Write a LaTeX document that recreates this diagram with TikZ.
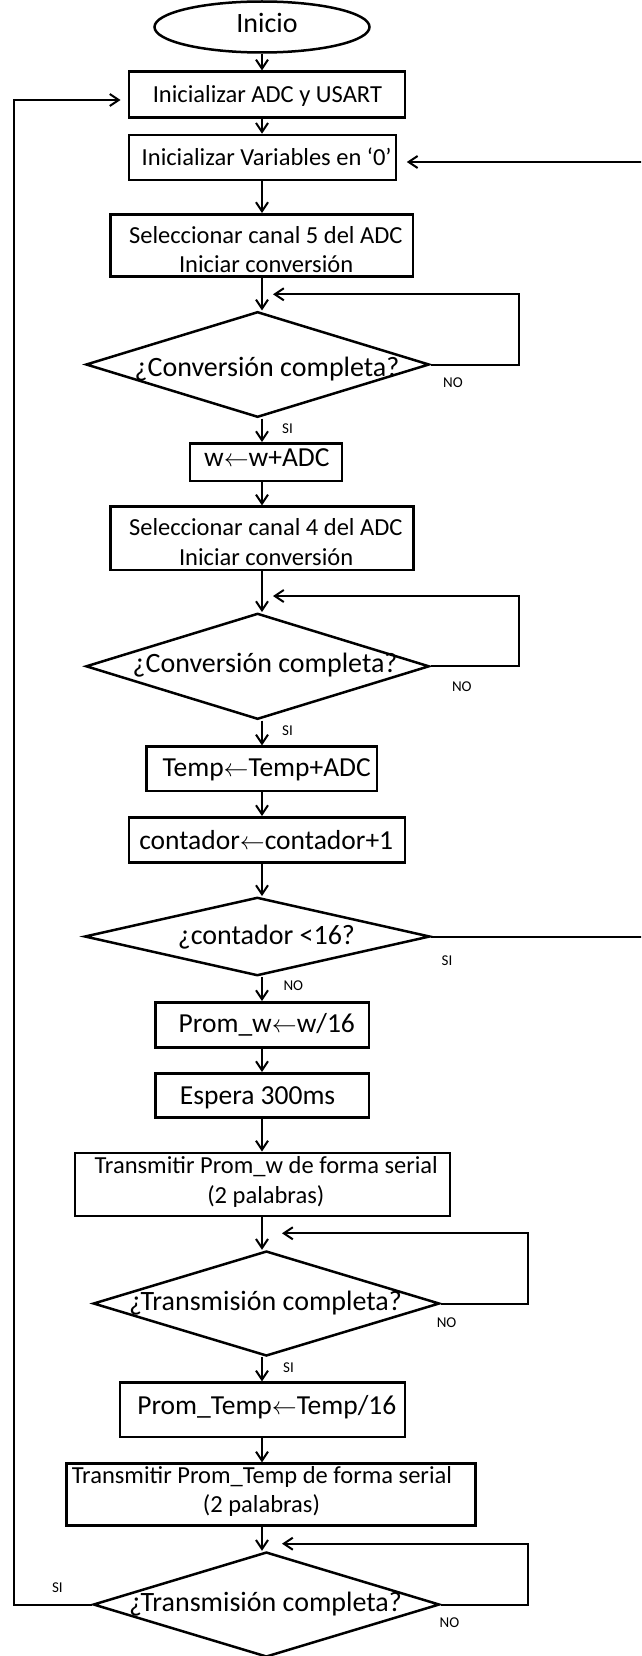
\documentclass[tikz,border=0pt]{standalone}
\usepackage{fontspec}
\setmainfont{Carlito}
\usetikzlibrary{shapes.geometric,arrows.meta}
\begin{document}
\begin{tikzpicture}[x=1pt,y=-1pt,
  shp/.style={draw=black, line width=2.5pt, inner sep=0pt},
  boxs/.style={shp, rectangle},
  dia/.style={shp, diamond},
  oval/.style={shp, ellipse},
  conn/.style={line width=2pt, draw=black},
  arr/.style={conn, -{Straight Barb[length=9pt,width=12pt]}},
  big/.style={font=\fontsize{27.5}{33}\selectfont, inner sep=0pt, anchor=base},
  mid/.style={font=\fontsize{24.5}{29}\selectfont, inner sep=0pt, anchor=base},
  dtx/.style={font=\fontsize{28}{33}\selectfont, inner sep=0pt, anchor=base},
  lbl/.style={font=\fontsize{15}{18}\selectfont, inner sep=0pt, anchor=base west},
]
\useasboundingbox (0,0) rectangle (641,1656);
\fill[white] (0,0) rectangle (641,1656);
\clip (0,0) rectangle (641,1656);

% shapes
\node[oval, minimum width=215pt, minimum height=51pt] (start) at (262,27) {};
\node[boxs, minimum width=275.9pt, minimum height=45.6pt] (b1) at (266.8,94.5) {};
\node[boxs, minimum width=266.9pt, minimum height=45pt] (b2) at (262.3,157.5) {};
\node[boxs, minimum width=302.6pt, minimum height=62.4pt] (b3) at (261.7,245.5) {};
\node[dia, minimum width=343.4pt, minimum height=105.6pt] (d1) at (257.6,364.5) {};
\node[boxs, minimum width=151.8pt, minimum height=37.7pt] (b4) at (265.9,462.2) {};
\node[boxs, minimum width=303.2pt, minimum height=63.3pt] (b5) at (262,538.3) {};
\node[dia, minimum width=343.4pt, minimum height=106pt] (d2) at (257.6,666.3) {};
\node[boxs, minimum width=230.6pt, minimum height=44.3pt] (b6) at (261.7,768.8) {};
\node[boxs, minimum width=275.9pt, minimum height=45pt] (b7) at (266.8,839.8) {};
\node[dia, minimum width=345.4pt, minimum height=78.4pt] (d3) at (257.3,936.5) {};
\node[boxs, minimum width=213.8pt, minimum height=45.4pt] (b8) at (262.3,1025) {};
\node[boxs, minimum width=213.8pt, minimum height=44.4pt] (b9) at (262.3,1095.5) {};
\node[boxs, minimum width=374.9pt, minimum height=63.3pt] (b10) at (262.3,1184.4) {};
\node[dia, minimum width=346.3pt, minimum height=105pt] (d4) at (266.4,1303.5) {};
\node[boxs, minimum width=284.9pt, minimum height=54.3pt] (b11) at (262.3,1409.8) {};
\node[boxs, minimum width=409.3pt, minimum height=61.6pt] (b12) at (270.9,1494.5) {};
\node[dia, minimum width=346.3pt, minimum height=105pt] (d5) at (266.4,1604.5) {};

% texts
\node[dtx] (t0) at (267,33) {Inicio};
\node[mid] (t1) at (267.4,102.7) {Inicializar ADC y USART};
\node[mid] (t2) at (266.7,166) {Inicializar Variables en ‘0’};
\node[mid] (t3a) at (265.8,243.3) {Seleccionar canal 5 del ADC};
\node[mid] (t3b) at (266.1,272.3) {Iniciar conversión};
\node[dtx] (td1) at (267,376.7) {¿Conversión completa?};
\node[lbl] (l1no) at (443,387.3) {NO};
\node[lbl] (l1si) at (282,433.3) {SI};
\node[big] (t4) at (266.8,466.7) {w$\leftarrow$w+ADC};
\node[mid] (t5a) at (265.8,535.7) {Seleccionar canal 4 del ADC};
\node[mid] (t5b) at (266.1,565) {Iniciar conversión};
\node[dtx] (td2) at (265.1,672.7) {¿Conversión completa?};
\node[lbl] (l2no) at (451.8,691) {NO};
\node[lbl] (l2si) at (282,735) {SI};
\node[big] (t6) at (266.7,776.7) {Temp$\leftarrow$Temp+ADC};
\node[big] (t7) at (266.2,849.3) {contador$\leftarrow$contador+1};
\node[dtx] (td3) at (266.4,944) {¿contador <16?};
\node[lbl] (l3si) at (441.5,965.7) {SI};
\node[lbl] (l3no) at (283.3,990.7) {NO};
\node[big] (t8) at (266.8,1032.7) {Prom\_w$\leftarrow$w/16};
\node[big] (t9) at (257.6,1104.3) {Espera 300ms};
\node[mid] (t10a) at (266.2,1173.3) {Transmitir Prom\_w de forma serial};
\node[mid] (t10b) at (265.8,1203.3) {(2 palabras)};
\node[dtx] (td4) at (265.4,1310) {¿Transmisión completa?};
\node[lbl] (l4no) at (436.6,1327) {NO};
\node[lbl] (l4si) at (283,1372) {SI};
\node[big] (t11) at (266.8,1414.3) {Prom\_Temp$\leftarrow$Temp/16};
\node[mid] (t12a) at (261.9,1483.3) {Transmitir Prom\_Temp de forma serial};
\node[mid] (t12b) at (261.5,1512.7) {(2 palabras)};
\node[dtx] (td5) at (265.4,1611) {¿Transmisión completa?};
\node[lbl] (l5si) at (51.9,1592.7) {SI};
\node[lbl] (l5no) at (439.5,1627.7) {NO};

% axis of main flow
\coordinate (ax) at (262,0);

% main arrows
\draw[arr] (start.south -| ax) -- (b1.north -| ax);
\draw[arr] (b1.south -| ax) -- (b2.north -| ax);
\draw[arr] (b2.south -| ax) -- (b3.north -| ax);
\draw[arr] (b3.south -| ax) -- (d1.north -| ax);
\draw[arr] (d1.south -| ax) -- (b4.north -| ax);
\draw[arr] (b4.south -| ax) -- (b5.north -| ax);
\draw[arr] (b5.south -| ax) -- (d2.north -| ax);
\draw[arr] (d2.south -| ax) -- (b6.north -| ax);
\draw[arr] (b6.south -| ax) -- (b7.north -| ax);
\draw[arr] (b7.south -| ax) -- (d3.north -| ax);
\draw[arr] (d3.south -| ax) -- (b8.north -| ax);
\draw[arr] (b8.south -| ax) -- (b9.north -| ax);
\draw[arr] (b9.south -| ax) -- (b10.north -| ax);
\draw[arr] (b10.south -| ax) -- (d4.north -| ax);
\draw[arr] (d4.south -| ax) -- (b11.north -| ax);
\draw[arr] (b11.south -| ax) -- (b12.north -| ax);
\draw[arr] (b12.south -| ax) -- (d5.north -| ax);

% NO loops
\coordinate (n1a) at (519.2,294.3); \coordinate (n1b) at (273,294.3);
\draw[arr] (d1.east) -| (n1a) -- (n1b);
\coordinate (n2a) at (519.2,596); \coordinate (n2b) at (273,596);
\draw[arr] (d2.east) -| (n2a) -- (n2b);
\coordinate (n4a) at (528.2,1233.3); \coordinate (n4b) at (282,1233.3);
\draw[arr] (d4.east) -| (n4a) -- (n4b);
\coordinate (n5a) at (528.2,1543.7); \coordinate (n5b) at (282,1543.7);
\draw[arr] (d5.east) -| (n5a) -- (n5b);

% counter loop (SI) back to variables
\coordinate (s3a) at (648,162); \coordinate (s3b) at (406.8,162);
\draw[arr] (d3.east) -| (s3a) -- (s3b);

% final SI back to init
\coordinate (la) at (14.3,100); \coordinate (lb) at (120.6,100);
\draw[arr] (d5.west) -| (la) -- (lb);
\end{tikzpicture}
\end{document}
